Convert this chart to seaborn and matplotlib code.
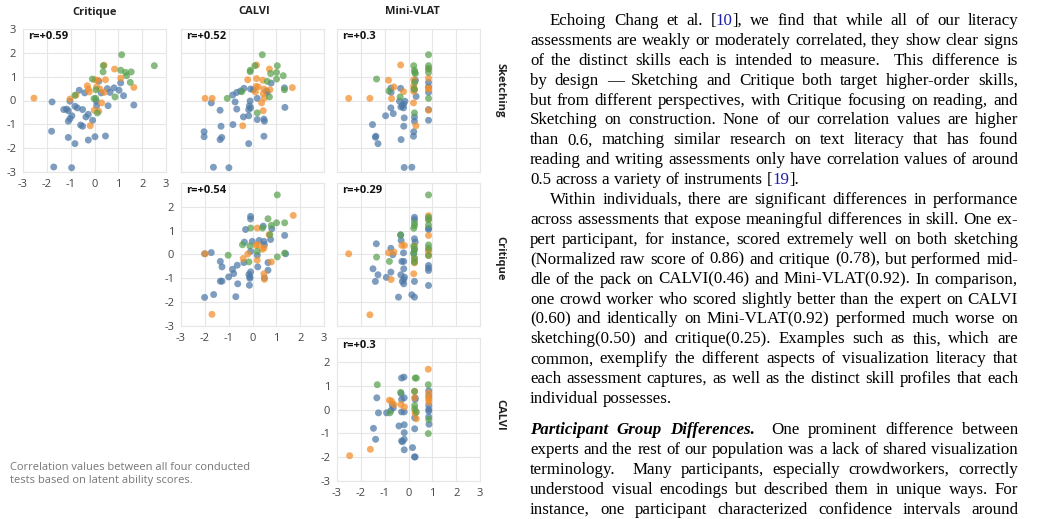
import pandas as pd
import matplotlib.pyplot as plt
import seaborn as sns

W, H = 1040, 519

col_names = ['Critique', 'CALVI', 'Mini-VLAT']
row_names = ['Sketching', 'Critique', 'CALVI']
tick_vals = [-3, -2, -1, 0, 1, 2, 3]
tick_labels = ['-3', '-2', '-1', '0', '1', '2', '3']
group_order = ['blue', 'orange', 'green']
group_colors = ['#4e79a7', '#f28e2b', '#59a14f']

# latent ability scores, one list of (x, y) per panel and group
crit_sketch_blue = [(-1.78, -0.06), (-1.80, -1.29), (-1.71, -2.79), (-0.96, -2.82), (-1.29, -0.38), (-1.17, -0.36),
                    (-1.10, -0.43), (-1.03, -0.03), (-0.95, -0.64), (-1.03, -0.76), (-1.10, -0.87), (-0.82, -0.24),
                    (-0.72, -0.31), (-0.64, 0.43), (-0.50, -0.38), (-0.58, -1.03), (-0.50, -1.08), (-0.82, -1.81),
                    (-1.10, -1.55), (-0.26, -1.66), (0.02, -1.52), (0.46, -1.49), (-0.36, -0.69), (-0.26, -0.58),
                    (-0.08, -0.83), (0.09, -0.22), (0.08, -0.03), (0.18, 0.81), (0.28, 0.32), (0.54, 0.50),
                    (0.65, 0.34), (0.57, -0.22), (0.82, 0.53), (1.03, 0.43), (1.10, 0.74), (1.22, 0.20),
                    (1.65, -0.19), (-0.41, 0.32)]
crit_sketch_orange = [(-2.54, 0.10), (-1.03, 0.06), (-0.78, 0.22), (-0.30, 0.62), (-0.26, 0.48), (-0.22, 0.36),
                      (-0.18, -1.06), (0.02, 0.87), (0.13, 0.85), (0.09, 0.57), (0.23, 0.48), (0.40, 1.48),
                      (0.46, 0.87), (0.41, 0.34), (0.84, 1.32), (1.10, 0.94), (1.65, 0.55), (0.18, -0.45),
                      (-0.01, -0.41), (0.30, -0.10)]
crit_sketch_green = [(1.14, 1.92), (2.51, 1.46), (0.37, 1.46), (0.36, 1.20), (-0.09, 0.90), (1.10, 1.27),
                     (1.30, 1.18), (1.35, 1.04), (1.54, 1.20), (1.50, 0.76), (0.86, 0.15), (0.05, 0.09),
                     (-0.02, 0.08), (0.12, -0.52), (0.06, 0.45), (-0.82, 0.22)]

calvi_sketch_blue = [(-1.73, -0.10), (-1.36, -0.41), (-2.03, -1.31), (-2.03, -1.52), (-1.32, -1.08), (-1.36, -1.64),
                     (-1.29, -1.55), (-1.64, -2.80), (-0.99, -2.82), (-0.16, -1.81), (-0.83, 0.23), (-0.66, 0.34),
                     (-0.73, -0.06), (-0.66, -0.36), (-0.82, -1.01), (-0.36, 0.51), (-0.08, 0.48), (-0.10, -0.02),
                     (-0.13, -0.22), (-0.16, -0.38), (-0.08, -0.31), (-0.38, -0.69), (-0.16, -0.64), (0.20, 0.09),
                     (0.20, -0.80), (0.48, -0.78), (0.50, -0.87), (0.48, -1.50), (0.62, 0.34), (0.78, 0.73),
                     (1.34, 0.53), (1.36, -0.29), (0.04, 0.45), (0.58, 0.40), (-0.50, 0.40)]
calvi_sketch_orange = [(-1.99, 0.09), (-1.69, 0.09), (0.17, 1.49), (0.71, 1.32), (-0.20, 0.87), (0.17, 0.92),
                       (0.43, 0.85), (0.15, 0.59), (0.24, 0.57), (0.12, 0.36), (0.48, 0.48), (0.73, 0.45),
                       (0.45, 0.29), (0.50, 0.10), (1.67, 0.54), (0.38, -0.10), (0.45, -0.43), (-0.41, -1.06)]
calvi_sketch_green = [(0.41, 1.92), (0.10, 1.46), (-0.09, 1.27), (-0.10, 1.21), (1.04, 1.46), (0.76, 1.13),
                      (1.01, 1.18), (1.29, 1.04), (1.01, 0.90), (1.34, 0.45), (0.71, 0.15), (-0.45, 0.37),
                      (-1.06, 0.09), (0.20, -0.52), (0.62, 0.80)]

mini_sketch_blue = [(-0.33, 0.51), (-0.73, 0.34), (-0.38, -0.03), (-0.26, -0.22), (-0.15, -0.03), (-0.21, -0.31),
                    (-0.32, -0.27), (-0.74, -0.31), (-0.64, -0.55), (-0.96, -0.64), (-0.18, -0.73), (-1.51, -1.01),
                    (-1.37, -1.50), (-1.39, -1.54), (-1.28, -1.81), (-0.20, -1.08), (0.22, -1.31), (0.21, -1.50),
                    (-0.31, -1.64), (-0.18, -2.81), (0.14, -2.80), (0.25, -0.69), (0.25, -0.87), (0.29, 0.85),
                    (0.84, 0.76), (0.84, 0.57), (0.84, 0.34), (0.84, -0.38), (0.84, -0.83), (0.32, 0.17),
                    (-0.74, 0.52), (-0.20, -0.15), (0.25, 0.45)]
mini_sketch_orange = [(-2.51, 0.09), (-1.62, 0.09), (-0.33, 1.49), (-0.84, 0.85), (-0.61, 0.57), (-0.71, 0.08),
                      (-0.21, 0.37), (0.22, 0.87), (0.22, 0.62), (0.22, 0.52), (0.22, 0.38), (0.84, 1.32),
                      (0.84, 0.94), (0.84, 0.52), (0.84, 0.48), (0.84, -0.41), (0.31, -1.06), (0.21, -0.10)]
mini_sketch_green = [(0.84, 1.92), (0.84, 1.46), (0.84, 1.34), (0.84, 1.18), (0.22, 1.46), (0.25, 1.27),
                     (0.26, 1.18), (0.29, 1.13), (-1.34, 0.90), (-0.82, 0.40), (-0.35, 0.15), (0.24, 0.48),
                     (0.25, -0.52), (0.84, 0.09), (0.26, 0.76)]

calvi_crit_blue = [(-2.01, 0.03), (-1.73, 0.08), (-1.35, -0.29), (-1.28, -0.52), (-1.35, -1.12), (-1.28, -1.12),
                   (-1.00, -0.94), (-0.79, -0.80), (-0.84, -0.62), (-0.64, -0.45), (-0.36, -0.34), (-0.62, -1.23),
                   (-0.70, -1.77), (-1.63, -1.68), (-2.01, -1.80), (-0.15, -0.84), (-0.11, -0.94), (-0.08, -0.73),
                   (-0.11, -1.00), (-0.13, -1.29), (-0.34, 0.52), (-0.29, 1.05), (-0.08, 1.60), (-0.08, 1.49),
                   (0.45, 1.19), (0.81, 1.08), (0.76, 0.63), (0.48, 0.55), (0.50, 0.41), (-0.08, 0.13),
                   (0.20, -0.03), (0.22, -0.52), (0.65, -0.34), (0.65, -0.66), (0.50, -0.98), (1.35, 0.80),
                   (1.39, 0.03), (-0.01, 0.55), (0.28, 0.59)]
calvi_crit_orange = [(1.71, 1.64), (0.20, 1.11), (0.70, 0.83), (0.15, 0.38), (0.22, 0.41), (0.48, 0.27),
                     (0.41, 0.22), (-0.20, 0.02), (-0.39, -0.17), (0.20, -0.24), (0.79, -0.31), (0.48, -0.81),
                     (0.50, -1.04), (-1.98, 0.03), (-1.70, -2.51)]
calvi_crit_green = [(1.04, 2.50), (0.65, 1.50), (1.01, 1.33), (1.35, 1.33), (0.79, 1.22), (0.42, 1.11),
                    (-0.08, 1.11), (0.73, 0.83), (-0.42, 0.41), (-0.11, 0.36), (0.20, 0.13), (-1.02, -0.03),
                    (1.04, -0.10), (1.35, 0.06), (-0.15, -0.31)]

mini_crit_blue = [(-1.35, 0.45), (-1.49, -0.60), (-1.28, -0.85), (-1.39, -1.13), (-0.93, -0.96), (-0.74, -0.74),
                  (-0.74, 0.26), (-0.66, -0.01), (-0.31, 0.59), (-0.33, 0.82), (-0.21, 0.07), (-0.28, -0.29),
                  (-0.20, -0.60), (-0.32, -0.85), (-0.17, -0.95), (-0.20, -1.05), (-0.26, -1.13), (-0.20, -1.23),
                  (-0.42, -1.79), (0.14, -1.69), (0.25, -1.79), (0.25, 1.56), (0.25, 1.46), (0.25, 0.66),
                  (0.28, 0.52), (0.25, 0.21), (0.25, -1.13), (0.22, 0.03), (0.84, 1.10), (0.84, 1.05),
                  (0.84, -0.46), (0.84, -0.57), (0.84, -0.67), (0.84, -1.30), (-0.20, -0.29)]
mini_crit_orange = [(-2.51, 0.03), (-1.62, -2.53), (0.84, 1.63), (0.84, 1.49), (0.84, 0.80), (0.84, 0.21),
                    (0.84, 0.13), (0.84, -0.04), (-0.28, 0.38), (-0.17, 0.38), (-0.61, 0.10), (-0.84, 0.07),
                    (0.25, 0.35), (0.25, -0.18), (0.25, -0.29), (0.25, -0.35), (0.22, -0.81), (-0.73, -1.05)]
mini_crit_green = [(0.84, 2.50), (0.84, 1.56), (0.84, 1.45), (0.84, 1.24), (0.25, 1.32), (0.25, 1.21),
                   (0.22, 1.10), (-0.33, 0.82), (0.22, 0.35), (0.25, 0.21), (0.22, 0.07), (0.84, 0.40),
                   (0.84, 0.26), (0.84, -0.04), (-1.34, -0.11), (-0.80, -0.29), (0.25, -0.15), (0.25, -0.32)]

mini_calvi_blue = [(-0.29, 1.32), (-0.19, 1.36), (-1.33, 0.49), (-1.26, -0.14), (-0.92, -0.14), (-0.74, -0.04),
                   (-0.64, 0.07), (-0.68, 0.20), (-0.29, 0.42), (-0.18, 0.49), (-0.31, 0.67), (-0.29, -0.10),
                   (-0.18, -0.10), (-0.40, -0.69), (-0.18, -0.64), (-0.18, -0.97), (-1.47, -0.79), (-1.38, -1.25),
                   (-0.29, -1.32), (-0.25, -1.35), (-0.18, -1.25), (-0.18, -1.69), (0.17, -1.60), (0.25, -1.99),
                   (0.28, -1.99), (0.26, -0.81), (0.26, -0.35), (0.28, 0.49), (0.28, 0.42), (0.85, 0.79),
                   (0.85, 0.58), (0.85, 0.17), (0.85, -0.07), (0.85, -0.31), (0.86, -0.62), (0.85, 0.00)]
mini_calvi_orange = [(-2.47, -1.94), (-1.60, -1.67), (0.83, 1.69), (0.26, 0.76), (0.26, 0.49), (0.28, -0.07),
                     (0.28, -0.17), (0.33, -0.39), (0.85, 0.69), (0.85, 0.49), (0.85, 0.42), (0.85, 0.31),
                     (-0.71, 0.35), (-0.80, 0.39), (-0.61, 0.21), (-0.32, 0.21), (-0.17, 0.11)]
mini_calvi_green = [(-1.31, 1.04), (-0.33, 0.72), (-0.78, -0.14), (0.28, 1.32), (0.33, 1.32), (0.25, 0.76),
                    (0.26, 0.17), (0.33, -0.11), (0.26, 0.03), (0.83, 1.04), (0.85, -0.42), (0.83, -1.01)]

# (row, col, r label, blue, orange, green)
panels = [
    (0, 0, 'r=+0.59', crit_sketch_blue, crit_sketch_orange, crit_sketch_green),
    (0, 1, 'r=+0.52', calvi_sketch_blue, calvi_sketch_orange, calvi_sketch_green),
    (0, 2, 'r=+0.3', mini_sketch_blue, mini_sketch_orange, mini_sketch_green),
    (1, 1, 'r=+0.54', calvi_crit_blue, calvi_crit_orange, calvi_crit_green),
    (1, 2, 'r=+0.29', mini_crit_blue, mini_crit_orange, mini_crit_green),
    (2, 2, 'r=+0.3', mini_calvi_blue, mini_calvi_orange, mini_calvi_green),
]

caption = ['Correlation values between all four conducted', 'tests based on latent ability scores.']

para1 = [
    'Echoing Chang et al. [{10}], we find that while all of our literacy',
    'assessments are weakly or moderately correlated, they show clear signs',
    'of the distinct skills each is intended to measure.  This difference is',
    'by design \u2014 Sketching and Critique both target higher-order skills,',
    'but from different perspectives, with Critique focusing on reading, and',
    'Sketching on construction. None of our correlation values are higher',
    'than 0.6, matching similar research on text literacy that has found',
    'reading and writing assessments only have correlation values of around',
    '0.5 across a variety of instruments [{19}].',
]
para2 = [
    'Within individuals, there are significant differences in performance',
    'across assessments that expose meaningful differences in skill. One ex-',
    'pert participant, for instance, scored extremely well on both sketching',
    '(Normalized raw score of 0.86) and critique (0.78), but performed mid-',
    'dle of the pack on CALVI(0.46) and Mini-VLAT(0.92). In comparison,',
    'one crowd worker who scored slightly better than the expert on CALVI',
    '(0.60) and identically on Mini-VLAT(0.92) performed much worse on',
    'sketching(0.50) and critique(0.25). Examples such as this, which are',
    'common, exemplify the different aspects of visualization literacy that',
    'each assessment captures, as well as the distinct skill profiles that each',
    'individual possesses.',
]
para3 = [
    '*Participant *Group *Differences.  One prominent difference between',
    'experts and the rest of our population was a lack of shared visualization',
    'terminology.  Many participants, especially crowdworkers, correctly',
    'understood visual encodings but described them in unique ways. For',
    'instance, one participant characterized confidence intervals around',
]

sns.set_theme(style='white')
plt.rcParams['font.family'] = ['Open Sans', 'DejaVu Sans']
plt.rcParams['axes.unicode_minus'] = False

fig = plt.figure(figsize=(W / 100, H / 100), dpi=100)

col_left = [23, 181, 337]
row_top = [29, 183, 338]
size = 143

for row, col, rlab, blue, orange, green in panels:
    ax = fig.add_axes([col_left[col] / W, 1 - (row_top[row] + size) / H, size / W, size / H])
    pts = blue + orange + green
    grp = ['blue'] * len(blue) + ['orange'] * len(orange) + ['green'] * len(green)
    df = pd.DataFrame({'x': [p[0] for p in pts], 'y': [p[1] for p in pts], 'group': grp})
    sns.scatterplot(data=df, x='x', y='y', hue='group', hue_order=group_order,
                    palette=group_colors, s=25, alpha=0.72, linewidth=0, legend=False, ax=ax)
    ax.set_xlim(-3, 3)
    ax.set_ylim(-3, 3)
    ax.set_xticks(tick_vals)
    ax.set_yticks(tick_vals)
    ax.set_xticklabels(tick_labels)
    # the top "3" of lower diagonal panels sits on the bottom-right label of the panel above
    ax.set_yticklabels(tick_labels[:-1] + ([tick_labels[-1]] if row == 0 else ['']))
    ax.set_xlabel('')
    ax.set_ylabel('')
    ax.grid(True, color='#e6e6e6', linewidth=0.8)
    ax.set_axisbelow(True)
    for sp in ax.spines.values():
        sp.set_color('#e6e6e6')
        sp.set_linewidth(0.8)
    diag = (row == col)
    ax.tick_params(length=0, labelsize=8, labelcolor='#444444', pad=5,
                   labelbottom=diag, labelleft=diag)
    ax.text(0.035, 0.945, rlab, transform=ax.transAxes, fontsize=8, fontweight='bold',
            color='#111111', ha='left', va='center')

col_centers = [95, 254, 412]
for name, cx in zip(col_names, col_centers):
    fig.text(cx / W, 1 - 12 / H, name, ha='center', va='center', fontsize=8,
             fontweight='bold', color='#222222')
row_centers = [90, 258, 415]
for name, cy in zip(row_names, row_centers):
    fig.text(500 / W, 1 - cy / H, name, ha='center', va='center', rotation=270,
             fontsize=8, fontweight='bold', color='#222222')

for i, line in enumerate(caption):
    fig.text(10 / W, 1 - (467 + 13 * i) / H, line, ha='left', va='center', fontsize=8,
             color='#777777')

# body text, justified word by word
renderer = fig.canvas.get_renderer()
body_size = 12.2
cite_color = '#1f1fa8'
space_w = body_size * 100 / 72 * 0.25
text_left, text_right, indent = 530, 1018, 20


def split_word(word):
    segs, buf = [], ''
    for ch in word:
        if ch == '{':
            if buf:
                segs.append((buf, 'black'))
            buf = ''
        elif ch == '}':
            segs.append((buf, cite_color))
            buf = ''
        else:
            buf += ch
    if buf:
        segs.append((buf, 'black'))
    return segs


def draw_line(line, x0, y, justify):
    words = line.split(' ')
    placed = []
    total = 0
    for w in words:
        style, weight = 'normal', 'normal'
        if w.startswith('*'):
            w = w[1:]
            style, weight = 'italic', 'bold'
        items = []
        for seg, color in split_word(w):
            t = fig.text(0, 0, seg, fontsize=body_size, family=['Liberation Serif', 'DejaVu Serif'],
                         style=style, fontweight=weight, color=color, va='baseline', ha='left')
            wd = t.get_window_extent(renderer).width
            items.append((t, wd))
        ww = sum(it[1] for it in items)
        placed.append((items, ww))
        total += ww
    gaps = len(words) - 1
    gap = (text_right - x0 - total) / gaps if (justify and gaps > 0) else space_w
    x = x0
    for items, ww in placed:
        xx = x
        for t, wd in items:
            t.set_position((xx / W, 1 - y / H))
            xx += wd
        x += ww + gap


line_h = 19.9
y = 20
for para in [para1, para2]:
    for i, line in enumerate(para):
        x0 = text_left + (indent if i == 0 else 0)
        draw_line(line, x0, y + 5, justify=(i < len(para) - 1))
        y += line_h
y = 429
for i, line in enumerate(para3):
    draw_line(line, text_left, y + 5, justify=True)
    y += line_h

fig.savefig('out.png', dpi=100)
